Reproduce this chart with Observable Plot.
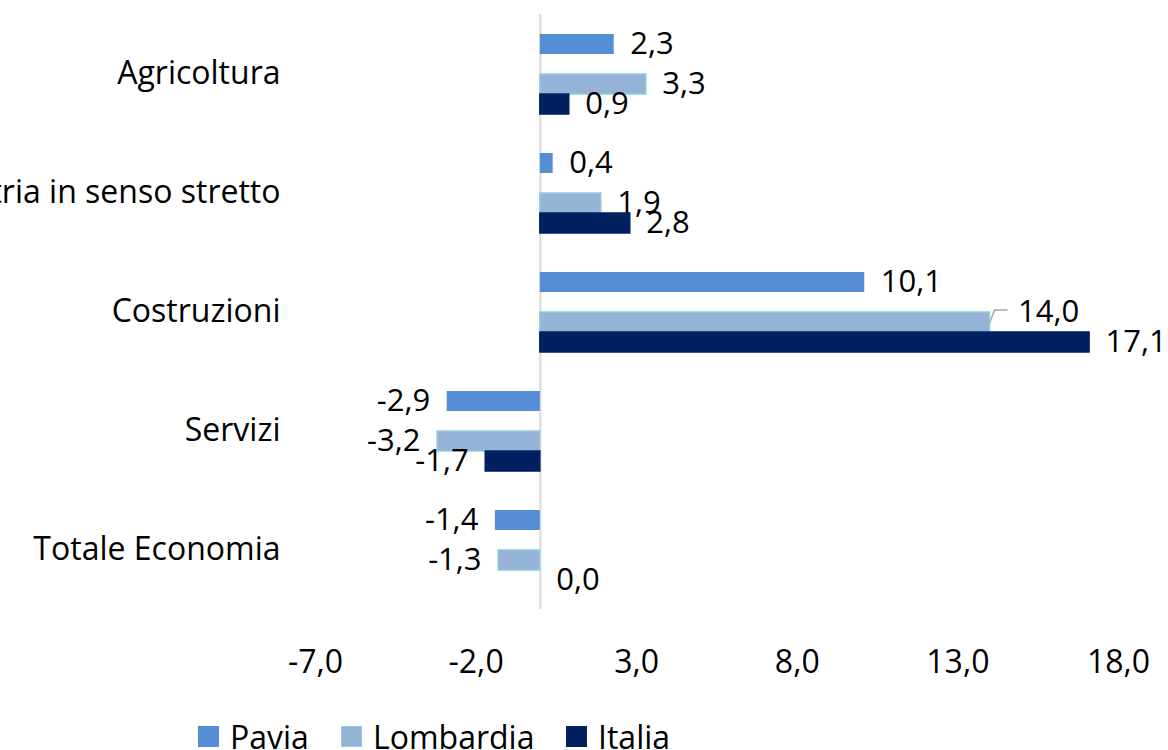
<!DOCTYPE html>
<html>
<head>
<meta charset="utf-8">
<script src="https://cdn.jsdelivr.net/npm/d3@7"></script>
<script src="https://cdn.jsdelivr.net/npm/@observablehq/plot@0.6"></script>
<style>
  html, body { margin: 0; padding: 0; background: #fff; }
  #wrap { position: relative; width: 1168px; height: 750px; overflow: hidden; font-family: "Open Sans", sans-serif; }
  #legend { position: absolute; left: 0; top: 715px; height: 42px; width: 1168px; }
  .item { position: absolute; top: 0; display: flex; align-items: center; height: 42px; font-size: 32px; color: #000; white-space: nowrap; }
  .sw { display: inline-block; width: 21px; height: 21px; margin-right: 11px; box-sizing: border-box; }
</style>
</head>
<body>
<div id="wrap"><div id="chart"></div><div id="legend"></div></div>
<script>
// ---- data ----
const categories = ["Agricoltura", "Industria in senso stretto", "Costruzioni", "Servizi", "Totale Economia"];
const series = ["Pavia", "Lombardia", "Italia"];
const pavia = [2.3, 0.4, 10.1, -2.9, -1.4];
const lombardia = [3.3, 1.9, 14.0, -3.2, -1.3];
const italia = [0.9, 2.8, 17.1, -1.7, 0.0];
const xTicks = [-7, -2, 3, 8, 13, 18];

// ---- styles ----
const fills = {Pavia: "#558ED5", Lombardia: "#95B3D7", Italia: "#002060"};
const strokes = {Pavia: "none", Lombardia: "#93CDDD", Italia: "#002060"};
const slots = ["Pavia", "(vuota)", "Lombardia", "Italia"]; // hidden empty slot as in the original
const nudged = {category: "Costruzioni", series: "Lombardia", dx: 28, dy: -10};

const seriesValues = [pavia, lombardia, italia];
const data = [];
categories.forEach((c, i) => series.forEach((s, j) => data.push({category: c, series: s, value: seriesValues[j][i]})));

const fmt = v => v.toFixed(1).replace(".", ",");
const isNudged = d => d.category === nudged.category && d.series === nudged.series;

const chart = Plot.plot({
  width: 1168,
  height: 700,
  marginLeft: 315,
  marginRight: 50,
  marginTop: 12,
  marginBottom: 90,
  style: {fontFamily: "Open Sans, sans-serif", fontSize: "32px", color: "#000", background: "#fff"},
  x: {domain: [-7, 18]},
  y: {domain: slots, paddingInner: 0, paddingOuter: 0.917, axis: null},
  fy: {domain: categories, padding: 0},
  color: {domain: series, range: series.map(s => fills[s])},
  marks: [
    Plot.ruleX([0], {stroke: "#d9d9d9", strokeWidth: 2}),
    Plot.barX(data, {
      x: "value", y: "series", fy: "category", fill: "series",
      stroke: d => strokes[d.series], strokeWidth: 1.5
    }),
    Plot.text(data.filter(d => d.value >= 0 && !isNudged(d)), {
      x: "value", y: "series", fy: "category", text: d => fmt(d.value),
      textAnchor: "start", dx: 16, fontSize: 31, fill: "#000"
    }),
    Plot.text(data.filter(d => d.value < 0), {
      x: "value", y: "series", fy: "category", text: d => fmt(d.value),
      textAnchor: "end", dx: -17, fontSize: 31, fill: "#000"
    }),
    Plot.text(data.filter(isNudged), {
      x: "value", y: "series", fy: "category", text: d => fmt(d.value),
      textAnchor: "start", dx: nudged.dx, dy: nudged.dy, fontSize: 31, fill: "#000"
    }),
    // leader line for the moved label
    Plot.barX(data.filter(isNudged), {
      x: "value", y: "series", fy: "category",
      render: (index, scales, values) => {
        const g = d3.create("svg:g");
        const bw = (scales.scales && scales.scales.y && scales.scales.y.bandwidth) || 20.5;
        for (const i of index) {
          const xe = Math.max(values.x1[i], values.x2[i]);
          const yc = values.y[i] + bw / 2;
          g.append("path")
            .attr("d", `M${xe},${yc + 1}l5,-13h13`)
            .attr("fill", "none").attr("stroke", "#a6a6a6").attr("stroke-width", 1.5);
        }
        return g.node();
      }
    }),
    Plot.axisX({ticks: xTicks, tickFormat: fmt, tickSize: 0, tickPadding: 41, fontSize: 32, label: null}),
    Plot.axisFy({anchor: "left", tickSize: 0, tickPadding: 35, fontSize: 32, label: null})
  ]
});
document.getElementById("chart").appendChild(chart);

// ---- legend ----
const legendPos = {Pavia: 198, Lombardia: 341, Italia: 566};
const legend = document.getElementById("legend");
for (const s of series) {
  const item = document.createElement("div");
  item.className = "item";
  item.style.left = legendPos[s] + "px";
  const sw = document.createElement("span");
  sw.className = "sw";
  sw.style.background = fills[s];
  if (strokes[s] !== "none") sw.style.border = "1.5px solid " + strokes[s];
  item.appendChild(sw);
  item.appendChild(document.createTextNode(s));
  legend.appendChild(item);
}
</script>
</body>
</html>
